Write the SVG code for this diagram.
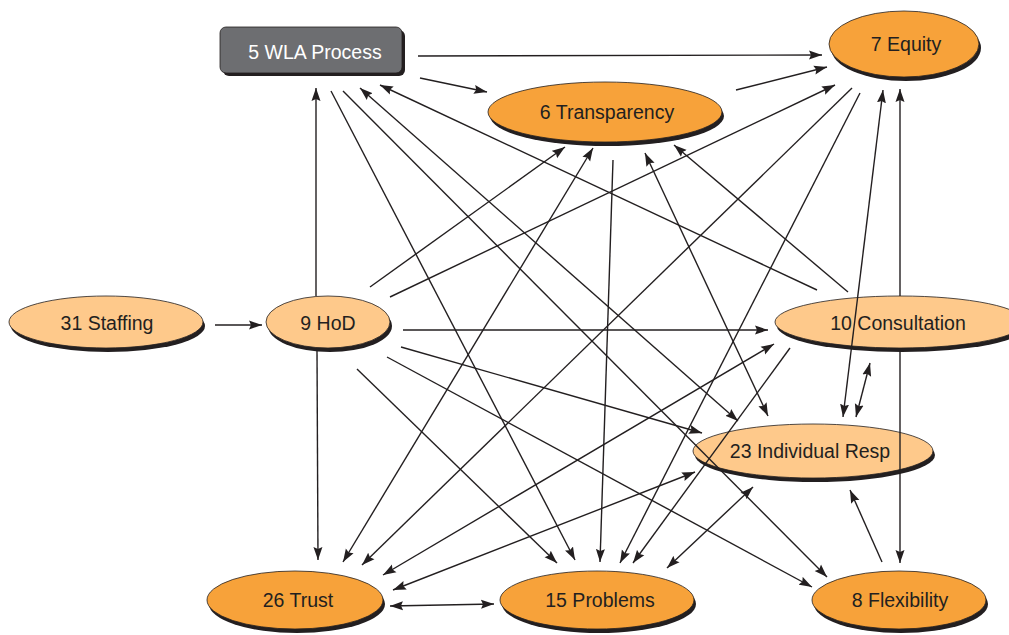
<svg xmlns="http://www.w3.org/2000/svg" width="1009" height="635" viewBox="0 0 1009 635">
<style>
.bg{fill:#ffffff}
.sh{fill:#231f20}
.dk{fill:#f7a23a;stroke:#231f20;stroke-width:0.8}
.lt{fill:#fec98b;stroke:#231f20;stroke-width:0.8}
.gr{fill:#6d6e71;stroke:#231f20;stroke-width:0.8}
.t{font-family:"Liberation Sans",Arial,sans-serif;font-size:19.5px;fill:#231f20;text-anchor:middle}
.tw{fill:#ffffff}
.e{stroke:#231f20;stroke-width:1.4;fill:none;marker-end:url(#ah)}
.b{marker-start:url(#ah)}
</style>
<defs>
<marker id="ah" markerUnits="userSpaceOnUse" markerWidth="14" markerHeight="10" refX="13" refY="4.5" orient="auto-start-reverse" viewBox="0 0 14 9">
<path d="M0,0 L13,4.5 L0,9 L2,4.5 z" fill="#231f20"/>
</marker>
</defs>
<rect class="bg" x="0" y="0" width="1009" height="635"/>

<g id="n5">
<rect class="sh" x="223" y="30" width="182" height="46" rx="6"/>
<rect class="gr" x="220" y="27" width="182" height="46" rx="6"/>
<text class="t tw" x="315" y="59">5 WLA Process</text>
</g>
<g id="n6">
<ellipse class="sh" cx="607" cy="116" rx="117" ry="30"/>
<ellipse class="dk" cx="605" cy="112" rx="117" ry="30"/>
<text class="t" x="607" y="119">6 Transparency</text>
</g>
<g id="n7">
<ellipse class="sh" cx="906" cy="48" rx="75" ry="33"/>
<ellipse class="dk" cx="904" cy="44" rx="75" ry="33"/>
<text class="t" x="906" y="51">7 Equity</text>
</g>
<g id="n31">
<ellipse class="sh" cx="108" cy="326" rx="97" ry="26"/>
<ellipse class="lt" cx="106" cy="322" rx="97" ry="26"/>
<text class="t" x="107" y="330">31 Staffing</text>
</g>
<g id="n9">
<ellipse class="sh" cx="330" cy="326" rx="62" ry="26"/>
<ellipse class="lt" cx="328" cy="322" rx="62" ry="26"/>
<text class="t" x="328" y="330">9 HoD</text>
</g>
<g id="n10">
<ellipse class="sh" cx="902" cy="326" rx="125" ry="26"/>
<ellipse class="lt" cx="900" cy="322" rx="125" ry="26"/>
<text class="t" x="898" y="330">10 Consultation</text>
</g>
<g id="n23">
<ellipse class="sh" cx="815" cy="455" rx="120" ry="27"/>
<ellipse class="lt" cx="813" cy="451" rx="120" ry="27"/>
<text class="t" x="810" y="458">23 Individual Resp</text>
</g>
<g id="n26">
<ellipse class="sh" cx="297" cy="604" rx="88" ry="29"/>
<ellipse class="dk" cx="295" cy="600" rx="88" ry="29"/>
<text class="t" x="298" y="607">26 Trust</text>
</g>
<g id="n15">
<ellipse class="sh" cx="599" cy="604" rx="97" ry="29"/>
<ellipse class="dk" cx="597" cy="600" rx="97" ry="29"/>
<text class="t" x="600" y="607">15 Problems</text>
</g>
<g id="n8">
<ellipse class="sh" cx="901" cy="604" rx="87" ry="29"/>
<ellipse class="dk" cx="899" cy="600" rx="87" ry="29"/>
<text class="t" x="900" y="607">8 Flexibility</text>
</g>

<g id="connectors">
<line class="e" x1="215" y1="325" x2="262" y2="325"/>
<line class="e" x1="316" y1="296" x2="316" y2="88"/>
<line class="e" x1="418" y1="56" x2="822" y2="55"/>
<line class="e" x1="420" y1="78" x2="487" y2="92"/>
<line class="e" x1="331" y1="91" x2="575" y2="560"/>
<line class="e" x1="343" y1="91" x2="827" y2="577"/>
<line class="e b" x1="360" y1="88" x2="738" y2="421"/>
<line class="e" x1="817" y1="290" x2="380" y2="85"/>
<line class="e" x1="370" y1="287" x2="565" y2="147"/>
<line class="e" x1="390" y1="297" x2="835" y2="85"/>
<line class="e" x1="403" y1="330" x2="768" y2="330"/>
<line class="e" x1="401" y1="347" x2="702" y2="433"/>
<line class="e" x1="387" y1="357" x2="812" y2="587"/>
<line class="e" x1="357" y1="369" x2="557" y2="563"/>
<line class="e" x1="317" y1="350" x2="318" y2="560"/>
<line class="e" x1="736" y1="90" x2="827" y2="67"/>
<line class="e" x1="613" y1="160" x2="600" y2="562"/>
<line class="e b" x1="343" y1="562" x2="593" y2="148"/>
<line class="e b" x1="645" y1="153" x2="768" y2="416"/>
<line class="e" x1="848" y1="292" x2="674" y2="145"/>
<line class="e" x1="852" y1="88" x2="362" y2="565"/>
<line class="e" x1="860" y1="93" x2="620" y2="563"/>
<line class="e b" x1="843" y1="417" x2="883" y2="90"/>
<line class="e" x1="900" y1="296" x2="900" y2="89"/>
<line class="e" x1="900" y1="350" x2="900" y2="563"/>
<line class="e b" x1="383" y1="575" x2="774" y2="344"/>
<line class="e" x1="790" y1="348" x2="633" y2="563"/>
<line class="e b" x1="870" y1="363" x2="856" y2="417"/>
<line class="e b" x1="393" y1="590" x2="695" y2="472"/>
<line class="e b" x1="390" y1="606" x2="494" y2="604"/>
<line class="e b" x1="753" y1="487" x2="667" y2="568"/>
<line class="e" x1="882" y1="562" x2="850" y2="490"/>
</g>
</svg>
